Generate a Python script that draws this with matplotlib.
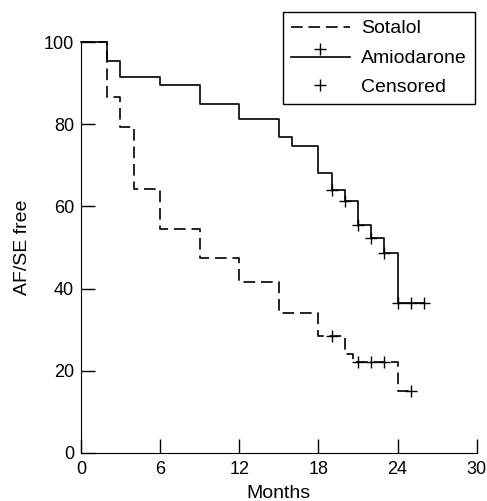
import numpy as np
import matplotlib
matplotlib.use("Agg")
import matplotlib.pyplot as plt
from matplotlib.lines import Line2D
from matplotlib.legend_handler import HandlerBase

plt.rcParams['font.family'] = ['Liberation Sans', 'DejaVu Sans']

# step curves (time in months, % free of AF/SE)
sot_t = [0, 2, 3, 4, 6, 9, 12, 15, 18, 20, 20.6, 24, 25]
sot_s = [100, 86.7, 79.3, 64.2, 54.5, 47.4, 41.6, 34.0, 28.4, 24.0, 22.2, 15.0, 15.0]
sot_cens_t = [19, 21, 22, 23, 25]
sot_cens_s = [28.4, 22.2, 22.2, 22.2, 15.0]

ami_t = [0, 2, 3, 6, 9, 12, 15, 16, 18, 19, 20, 21, 22, 23, 24, 26]
ami_s = [100, 95.5, 91.4, 89.6, 85.0, 81.3, 77.0, 74.7, 68.2, 64.0, 61.3, 55.5, 52.3, 48.6, 36.4, 36.4]
ami_cens_t = [19, 20, 21, 22, 23, 24, 25, 26]
ami_cens_s = [64.0, 61.3, 55.5, 52.3, 48.6, 36.4, 36.4, 36.4]

xticks = [0, 6, 12, 18, 24, 30]
yticks = [0, 20, 40, 60, 80, 100]

LW = 1.2
dash = (0, (7, 3.5))


# legend entry: solid line with a censor mark sitting above it
class LinePlusHandler(HandlerBase):
    def create_artists(self, legend, orig, xd, yd, w, h, fontsize, trans):
        y0 = h / 2 - yd - h * 0.1
        ln = Line2D([-xd, -xd + w], [y0, y0], color='black', lw=LW)
        mk = Line2D([-xd + w / 2], [y0 + h * 0.6], marker='+', color='black',
                    markersize=8, mew=1.0, ls='none')
        ln.set_transform(trans)
        mk.set_transform(trans)
        return [ln, mk]


fig = plt.figure(figsize=(4.87, 5.01), dpi=100)
ax = fig.add_axes([0.166, 0.096, 0.813, 0.82])

ax.step(sot_t, sot_s, where='post', color='black', lw=LW, linestyle=dash, clip_on=False)
ax.step(ami_t, ami_s, where='post', color='black', lw=LW, clip_on=False)
ax.plot(sot_cens_t, sot_cens_s, '+', color='black', markersize=8, mew=1.0, clip_on=False)
ax.plot(ami_cens_t, ami_cens_s, '+', color='black', markersize=8, mew=1.0, clip_on=False)

ax.set_xlim(0, 30)
ax.set_ylim(0, 100)
ax.set_xticks(xticks)
ax.set_yticks(yticks)
ax.spines['top'].set_visible(False)
ax.spines['right'].set_visible(False)
ax.tick_params(direction='in', length=10, width=1, labelsize=13)
ax.tick_params(axis='x', pad=6)
ax.tick_params(axis='y', pad=5)
ax.set_xlabel('Months', fontsize=14, labelpad=5)
ax.set_ylabel('AF/SE free', fontsize=14, labelpad=9)

h_sot = Line2D([], [], color='black', lw=LW, linestyle=dash)
h_ami = Line2D([], [], color='black', lw=LW)
h_cen = Line2D([], [], color='black', marker='+', markersize=8, mew=1.0, ls='none')
leg = ax.legend([h_sot, h_ami, h_cen], ['Sotalol', 'Amiodarone', 'Censored'],
                handler_map={h_ami: LinePlusHandler()},
                loc='upper right', bbox_to_anchor=(0.995, 1.073),
                fontsize=14, frameon=True, fancybox=False, framealpha=1,
                edgecolor='black', handlelength=3.0, handletextpad=0.6,
                labelspacing=0.6, borderpad=0.4, borderaxespad=0)
leg.get_frame().set_linewidth(1.0)

fig.savefig('out.png', dpi=100)
